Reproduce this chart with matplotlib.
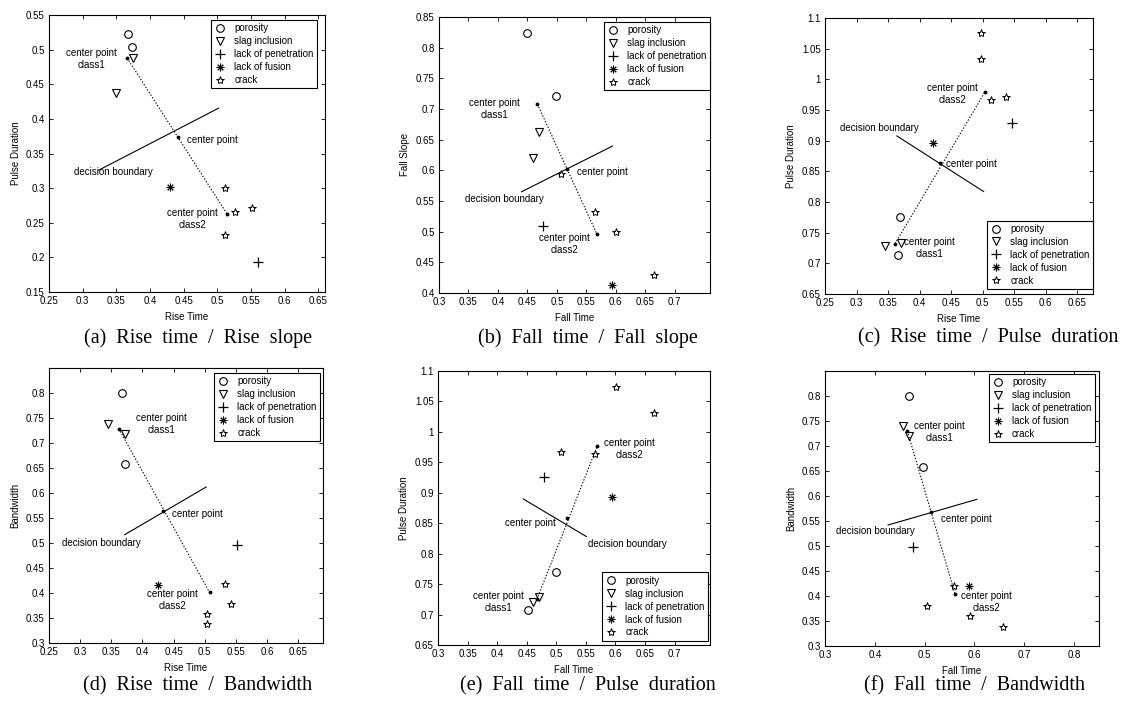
import matplotlib
matplotlib.use("Agg")
import matplotlib.pyplot as plt
from matplotlib.lines import Line2D
from matplotlib.ticker import FixedLocator, FuncFormatter
import numpy as np

plt.rcParams['font.family'] = ['Liberation Sans', 'DejaVu Sans']

# ---------------- data ----------------
CLASSES = ["porosity", "slag inclusion", "lack of penetration", "lack of fusion", "crack"]
POINT_CLASS = [0, 0, 1, 1, 2, 3, 4, 4, 4, 4]

# (a) Rise time / Rise slope
a_x = [0.368, 0.374, 0.375, 0.349, 0.561, 0.430, 0.511, 0.526, 0.552, 0.511]
a_y = [0.522, 0.504, 0.488, 0.437, 0.194, 0.301, 0.300, 0.266, 0.271, 0.233]
a_c1 = (0.366, 0.488)
a_c2 = (0.515, 0.262)
a_cp = (0.441, 0.374)
a_db = [(0.324, 0.326), (0.502, 0.4155)]

# (b) Fall time / Fall slope
b_x = [0.450, 0.498, 0.470, 0.460, 0.477, 0.593, 0.507, 0.565, 0.600, 0.665]
b_y = [0.8245, 0.7215, 0.663, 0.620, 0.5095, 0.4124, 0.594, 0.532, 0.500, 0.430]
b_c1 = (0.467, 0.708)
b_c2 = (0.568, 0.496)
b_cp = (0.518, 0.602)
b_db = [(0.440, 0.565), (0.5945, 0.6396)]

# (c) Rise time / Pulse duration
c_x = [0.369, 0.3655, 0.345, 0.370, 0.5466, 0.422, 0.498, 0.498, 0.513, 0.5375]
c_y = [0.7756, 0.7134, 0.729, 0.733, 0.929, 0.897, 1.0757, 1.0337, 0.967, 0.971]
c_c1 = (0.361, 0.732)
c_c2 = (0.504, 0.980)
c_cp = (0.433, 0.863)
c_db = [(0.364, 0.9077), (0.5016, 0.817)]

# (d) Rise time / Bandwidth
d_x = [0.367, 0.372, 0.3446, 0.3716, 0.5516, 0.4257, 0.5327, 0.5419, 0.504, 0.504]
d_y = [0.800, 0.659, 0.7387, 0.718, 0.4967, 0.4167, 0.418, 0.378, 0.358, 0.339]
d_c1 = (0.362, 0.7287)
d_c2 = (0.5078, 0.4013)
d_cp = (0.4338, 0.5633)
d_db = [(0.3716, 0.5167), (0.5024, 0.612)]

# (e) Fall time / Pulse duration
e_x = [0.4998, 0.4527, 0.460, 0.4714, 0.4788, 0.5945, 0.6008, 0.6655, 0.5083, 0.565]
e_y = [0.7696, 0.7067, 0.7214, 0.7296, 0.926, 0.8932, 1.0743, 1.0305, 0.9676, 0.9638]
e_c1 = (0.4674, 0.7252)
e_c2 = (0.5696, 0.9775)
e_cp = (0.5185, 0.8582)
e_db = [(0.4442, 0.8899), (0.5509, 0.8281)]

# (f) Fall time / Bandwidth
f_x = [0.4687, 0.4967, 0.4567, 0.4687, 0.4767, 0.5887, 0.558, 0.5047, 0.592, 0.6567]
f_y = [0.800, 0.6587, 0.7407, 0.7207, 0.4987, 0.420, 0.4207, 0.3807, 0.360, 0.3387]
f_c1 = (0.4653, 0.730)
f_c2 = (0.5613, 0.4033)
f_cp = (0.5133, 0.5673)
f_db = [(0.4267, 0.542), (0.6047, 0.5933)]

PANELS = [
    dict(x=a_x, y=a_y, c1=a_c1, c2=a_c2, cp=a_cp, db=a_db,
         xlabel="Rise Time", ylabel="Pulse Duration", caption="(a)  Rise  time  /  Rise  slope",
         xlim=(0.25, 0.66), ylim=(0.15, 0.55),
         xticks=[0.25, 0.3, 0.35, 0.4, 0.45, 0.5, 0.55, 0.6, 0.65],
         yticks=[0.15, 0.2, 0.25, 0.3, 0.35, 0.4, 0.45, 0.5, 0.55],
         texts=[("center point\nclass1", 0.313, 0.4864, "center"),
                ("center point", 0.4554, 0.3694, "left"),
                ("decision boundary", 0.2871, 0.3233, "left"),
                ("center point\nclass2", 0.4629, 0.2548, "center")],
         legloc="upper right", legbbox=(0.971, 0.982)),
    dict(x=b_x, y=b_y, c1=b_c1, c2=b_c2, cp=b_cp, db=b_db,
         xlabel="Fall Time", ylabel="Fall Slope", caption="(b)  Fall  time  /  Fall  slope",
         xlim=(0.3, 0.76), ylim=(0.4, 0.85),
         xticks=[0.3, 0.35, 0.4, 0.45, 0.5, 0.55, 0.6, 0.65, 0.7],
         yticks=[0.4, 0.45, 0.5, 0.55, 0.6, 0.65, 0.7, 0.75, 0.8, 0.85],
         texts=[("center point\nclass1", 0.3948, 0.6998, "center"),
                ("center point", 0.5338, 0.5967, "left"),
                ("decision boundary", 0.3437, 0.5534, "left"),
                ("center point\nclass2", 0.5128, 0.4807, "center")],
         legloc="upper right", legbbox=(1.0, 0.982)),
    dict(x=c_x, y=c_y, c1=c_c1, c2=c_c2, cp=c_cp, db=c_db,
         xlabel="Rise Time", ylabel="Pulse Duration", caption="(c)  Rise  time  /  Pulse  duration",
         xlim=(0.25, 0.675), ylim=(0.65, 1.1),
         xticks=[0.25, 0.3, 0.35, 0.4, 0.45, 0.5, 0.55, 0.6, 0.65],
         yticks=[0.65, 0.7, 0.75, 0.8, 0.85, 0.9, 0.95, 1.0, 1.05, 1.1],
         texts=[("center point\nclass2", 0.4523, 0.9755, "center"),
                ("decision boundary", 0.2738, 0.9206, "left"),
                ("center point", 0.4423, 0.8618, "left"),
                ("center point\nclass1", 0.4158, 0.7245, "center")],
         legloc="lower right", legbbox=(1.0, 0.018)),
    dict(x=d_x, y=d_y, c1=d_c1, c2=d_c2, cp=d_cp, db=d_db,
         xlabel="Rise Time", ylabel="Bandwidth", caption="(d)  Rise  time  /  Bandwidth",
         xlim=(0.25, 0.69), ylim=(0.3, 0.85),
         xticks=[0.25, 0.3, 0.35, 0.4, 0.45, 0.5, 0.55, 0.6, 0.65],
         yticks=[0.3, 0.35, 0.4, 0.45, 0.5, 0.55, 0.6, 0.65, 0.7, 0.75, 0.8],
         texts=[("center point\nclass1", 0.4311, 0.7373, "center"),
                ("center point", 0.4473, 0.558, "left"),
                ("decision boundary", 0.2716, 0.500, "left"),
                ("center point\nclass2", 0.4478, 0.386, "center")],
         legloc="upper right", legbbox=(0.989, 0.982)),
    dict(x=e_x, y=e_y, c1=e_c1, c2=e_c2, cp=e_cp, db=e_db,
         xlabel="Fall Time", ylabel="Pulse Duration", caption="(e)  Fall  time  /  Pulse  duration",
         xlim=(0.3, 0.76), ylim=(0.65, 1.1),
         xticks=[0.3, 0.35, 0.4, 0.45, 0.5, 0.55, 0.6, 0.65, 0.7],
         yticks=[0.65, 0.7, 0.75, 0.8, 0.85, 0.9, 0.95, 1.0, 1.05, 1.1],
         texts=[("center point\nclass2", 0.6241, 0.9725, "center"),
                ("center point", 0.4998, 0.850, "right"),
                ("decision boundary", 0.5537, 0.8161, "left"),
                ("center point\nclass1", 0.4016, 0.7209, "center")],
         legloc="lower right", legbbox=(0.993, 0.015)),
    dict(x=f_x, y=f_y, c1=f_c1, c2=f_c2, cp=f_cp, db=f_db,
         xlabel="Fall Time", ylabel="Bandwidth", caption="(f)  Fall  time  /  Bandwidth",
         xlim=(0.3, 0.85), ylim=(0.3, 0.85),
         xticks=[0.3, 0.4, 0.5, 0.6, 0.7, 0.8],
         yticks=[0.3, 0.35, 0.4, 0.45, 0.5, 0.55, 0.6, 0.65, 0.7, 0.75, 0.8],
         texts=[("center point\nclass1", 0.530, 0.728, "center"),
                ("center point", 0.532, 0.5533, "left"),
                ("decision boundary", 0.322, 0.530, "left"),
                ("center point\nclass2", 0.6247, 0.3887, "center")],
         legloc="upper right", legbbox=(0.985, 0.989)),
]

# axes rectangles in pixels (left, top, right, bottom) on a 1122x710 canvas
W, H = 1122, 710
AX_PX = [(49, 15, 325, 292), (439, 17, 710, 293), (825, 18, 1093, 294),
         (49, 368, 323, 643), (438, 371, 710, 645), (825, 371, 1099, 646)]
# caption anchor: (x, y, ha)
CAP_PX = [(198, 338, 'center'), (588, 338, 'center'), (1118, 338, 'right'),
          (198, 686, 'center'), (588, 686, 'center'), (975, 686, 'center')]

MARKERS = [
    dict(marker='o', ms=5.5, mfc='none', mec='k', mew=0.8),
    dict(marker='v', ms=6, mfc='none', mec='k', mew=0.8),
    dict(marker='+', ms=7, mfc='none', mec='k', mew=0.9),
    dict(marker=(8, 2, 0), ms=5.5, mfc='none', mec='k', mew=0.7),
    dict(marker='*', ms=6, mfc='none', mec='k', mew=0.7),
]

FS = 7
fig = plt.figure(figsize=(W / 100, H / 100), dpi=100)
fmt = FuncFormatter(lambda v, p: "%g" % round(v, 4))

for p, (l, t, r, b), (cx, cy, cha) in zip(PANELS, AX_PX, CAP_PX):
    ax = fig.add_axes([l / W, 1 - b / H, (r - l) / W, (b - t) / H])
    xs = np.array(p["x"]); ys = np.array(p["y"]); cls = np.array(POINT_CLASS)
    for k in range(len(CLASSES)):
        m = cls == k
        ax.plot(xs[m], ys[m], ls='none', **MARKERS[k])
    c1, c2, cp, db = p["c1"], p["c2"], p["cp"], p["db"]
    ax.plot([c1[0], c2[0]], [c1[1], c2[1]], ls=(0, (1.2, 1.6)), color='k', lw=0.8)
    ax.plot([db[0][0], db[1][0]], [db[0][1], db[1][1]], '-', color='k', lw=0.8)
    ax.plot([c1[0], c2[0], cp[0]], [c1[1], c2[1], cp[1]], 'k.', ms=3.5)
    for txt, tx, ty, ha in p["texts"]:
        ax.text(tx, ty, txt, ha=ha, va='center', fontsize=FS, linespacing=1.25)
    ax.set_xlim(*p["xlim"]); ax.set_ylim(*p["ylim"])
    ax.xaxis.set_major_locator(FixedLocator(p["xticks"]))
    ax.yaxis.set_major_locator(FixedLocator(p["yticks"]))
    ax.xaxis.set_major_formatter(fmt); ax.yaxis.set_major_formatter(fmt)
    ax.tick_params(direction='in', length=3, width=0.6, labelsize=FS, top=True, right=True, pad=3)
    for s in ax.spines.values():
        s.set_linewidth(0.8)
    ax.set_xlabel(p["xlabel"], fontsize=FS, labelpad=4)
    ax.set_ylabel(p["ylabel"], fontsize=FS, labelpad=4)
    handles = [Line2D([], [], ls='none', **MARKERS[k]) for k in range(len(CLASSES))]
    leg = ax.legend(handles, CLASSES, loc=p["legloc"], bbox_to_anchor=p["legbbox"],
                    fontsize=FS, frameon=True, fancybox=False, framealpha=1,
                    edgecolor='k', borderpad=0.35, labelspacing=0.3,
                    handlelength=1.0, handletextpad=1.0, borderaxespad=0.0)
    leg.get_frame().set_linewidth(0.8)
    fig.text(cx / W, 1 - cy / H, p["caption"], ha=cha, va='center',
             fontsize=14.5, family=['Liberation Serif', 'DejaVu Serif'])

fig.savefig("out.png", dpi=100)
